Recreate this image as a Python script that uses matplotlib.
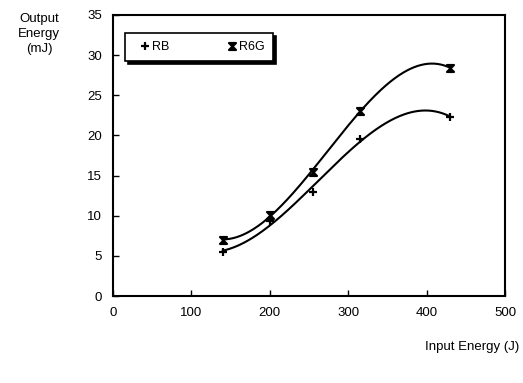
import numpy as np
import matplotlib.pyplot as plt
from matplotlib.path import Path

plt.rcParams['font.family'] = ['Liberation Sans', 'DejaVu Sans']

input_energy = [140, 200, 255, 315, 430]
rb_output = [5.5, 9.4, 12.9, 19.6, 22.3]
r6g_output = [7.0, 10.1, 15.5, 23.1, 28.4]

x_ticks = [0, 100, 200, 300, 400, 500]
y_ticks = [0, 5, 10, 15, 20, 25, 30, 35]

# hourglass marker for R6G
hourglass = Path([(-1, 1), (1, 1), (-1, -1), (1, -1), (-1, 1)],
                 [Path.MOVETO, Path.LINETO, Path.LINETO, Path.LINETO, Path.CLOSEPOLY])

fig = plt.figure(figsize=(5.23, 3.83), dpi=100)
ax = fig.add_axes([0.216, 0.227, 0.75, 0.734])

xs = np.linspace(min(input_energy), max(input_energy), 200)
for ys, mk, label, ms in [(rb_output, '+', 'RB', 6), (r6g_output, hourglass, 'R6G', 5)]:
    coef = np.polyfit(input_energy, ys, 3)
    ax.plot(xs, np.polyval(coef, xs), color='black', linewidth=1.5)
    ax.plot(input_energy, ys, linestyle='none', marker=mk, markersize=ms,
            color='black', markeredgewidth=1.6, label=label)

ax.set_xlim(0, 500)
ax.set_ylim(0, 35)
ax.set_xticks(x_ticks)
ax.set_yticks(y_ticks)
ax.tick_params(direction='in', length=4, width=1, labelsize=9.5, pad=8)
for s in ax.spines.values():
    s.set_linewidth(1.5)

leg = ax.legend(loc='upper left', bbox_to_anchor=(0.03, 0.935), ncol=2,
                frameon=True, fancybox=False, shadow={'color': 'black', 'alpha': 1},
                fontsize=9, handletextpad=-0.4, handlelength=1.9, columnspacing=4.1,
                borderpad=0.65, borderaxespad=0)
leg.get_frame().set_edgecolor('black')
leg.get_frame().set_linewidth(1.2)

fig.text(0.075, 0.965, 'Output\nEnergy\n(mJ)', ha='center', va='top',
         fontsize=9.5, linespacing=1.3)
fig.text(0.993, 0.095, 'Input Energy (J)', ha='right', va='center', fontsize=9.5)

fig.savefig('out.png', dpi=100)
